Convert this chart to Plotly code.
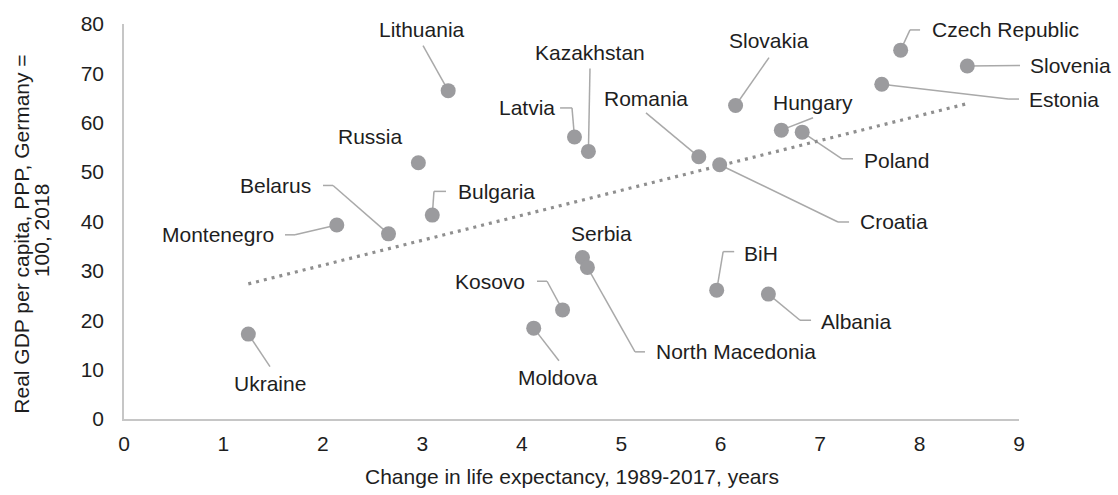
import numpy as np
import plotly.graph_objects as go

# ---- data ----
countries = ["Ukraine", "Montenegro", "Belarus", "Russia", "Bulgaria", "Lithuania",
             "Moldova", "Kosovo", "Latvia", "Serbia", "North Macedonia", "Kazakhstan",
             "Romania", "BiH", "Croatia", "Slovakia", "Albania", "Hungary", "Poland",
             "Estonia", "Czech Republic", "Slovenia"]
life_exp_change = [1.25, 2.14, 2.66, 2.96, 3.10, 3.26,
                   4.12, 4.41, 4.53, 4.61, 4.66, 4.67,
                   5.78, 5.96, 5.99, 6.15, 6.48, 6.61, 6.82,
                   7.62, 7.81, 8.48]
gdp_per_capita = [17.2, 39.3, 37.5, 51.9, 41.3, 66.5,
                  18.4, 22.1, 57.1, 32.7, 30.7, 54.2,
                  53.1, 26.1, 51.5, 63.5, 25.3, 58.5, 58.1,
                  67.8, 74.7, 71.5]

x_ticks = [0, 1, 2, 3, 4, 5, 6, 7, 8, 9]
y_ticks = [0, 10, 20, 30, 40, 50, 60, 70, 80]
x_title = "Change in life expectancy, 1989-2017, years"
y_title_lines = ["Real GDP per capita, PPP, Germany =", "100, 2018"]

X_RANGE = [0, 9]
Y_RANGE = [0, 80]

# ---- label placement (layout only): label anchor, x-anchor, leader waypoints ----
label_layout = {
    "Lithuania":       ((2.997, 78.8), "center", [(3.007, 75.6)]),
    "Kazakhstan":      ((4.686, 74.2), "center", [(4.686, 71.0)]),
    "Latvia":          ((4.354, 63.0), "right",  [(4.505, 63.0), (4.385, 63.0)]),
    "Romania":         ((5.249, 65.0), "center", [(5.249, 62.0)]),
    "Slovakia":        ((6.486, 76.6), "center", [(6.486, 73.2)]),
    "Russia":          ((2.474, 57.3), "center", []),
    "Bulgaria":        ((3.339, 46.1), "left",   [(3.117, 46.1), (3.238, 46.1)]),
    "Belarus":         ((1.901, 47.3), "right",  [(2.102, 47.3), (2.001, 47.3)]),
    "Montenegro":      ((1.529, 37.3), "right",  [(1.72, 37.3), (1.619, 37.3)]),
    "Ukraine":         ((1.468, 7.2),  "center", [(1.468, 10.6)]),
    "Serbia":          ((4.797, 37.5), "center", []),
    "Kosovo":          ((4.053, 27.9), "right",  [(4.254, 27.9), (4.153, 27.9)]),
    "Moldova":         ((4.364, 8.4),  "center", [(4.374, 11.8)]),
    "North Macedonia": ((5.330, 13.6), "left",   [(5.139, 13.6), (5.239, 13.6)]),
    "BiH":             ((6.215, 33.5), "left",   [(6.025, 33.9), (6.136, 33.9)]),
    "Albania":         ((6.989, 19.8), "left",   [(6.798, 20.0), (6.909, 20.0)]),
    "Czech Republic":  ((8.105, 78.8), "left",   [(7.904, 78.8), (8.005, 78.8)]),
    "Slovenia":        ((9.091, 71.6), "left",   [(9.01, 71.6)]),
    "Estonia":         ((9.081, 64.8), "left",   [(8.89, 64.8), (9.0, 64.8)]),
    "Hungary":         ((6.929, 64.0), "center", [(6.929, 61.0)]),
    "Poland":          ((7.422, 52.3), "left",   [(7.22, 52.7), (7.331, 52.7)]),
    "Croatia":         ((7.381, 39.9), "left",   [(7.18, 39.9), (7.291, 39.9)]),
}

FONT = "Liberation Sans, Arial, sans-serif"
FS = 21
TXT = "#1e1e1e"
DOT = "#9b9b9e"
LEAD = "#a9a9a9"


def to_paper(x, y):
    return ((x - X_RANGE[0]) / (X_RANGE[1] - X_RANGE[0]),
            (y - Y_RANGE[0]) / (Y_RANGE[1] - Y_RANGE[0]))


fig = go.Figure()

# leader lines (as paper-referenced shapes so they are not clipped)
for c, xv, yv in zip(countries, life_exp_change, gdp_per_capita):
    (lx, ly), anchor, pts = label_layout[c]
    if not pts:
        continue
    seq = [(xv, yv)] + list(pts)
    for (x0, y0), (x1, y1) in zip(seq[:-1], seq[1:]):
        px0, py0 = to_paper(x0, y0)
        px1, py1 = to_paper(x1, y1)
        fig.add_shape(type="line", xref="paper", yref="paper",
                      x0=px0, y0=py0, x1=px1, y1=py1,
                      line=dict(color=LEAD, width=1.5), layer="below")

# trend line (linear fit)
xa = np.array(life_exp_change)
ya = np.array(gdp_per_capita)
slope, intercept = np.polyfit(xa, ya, 1)
tx = np.array([xa.min(), xa.max()])
fig.add_trace(go.Scatter(x=tx, y=slope * tx + intercept, mode="lines",
                         line=dict(color="#8f8f8f", width=3.2, dash="3px,5px"),
                         hoverinfo="skip", showlegend=False))

# points
fig.add_trace(go.Scatter(x=life_exp_change, y=gdp_per_capita, mode="markers",
                         marker=dict(size=15, color=DOT),
                         text=countries, showlegend=False, cliponaxis=False))

# labels
for c in countries:
    (lx, ly), anchor, pts = label_layout[c]
    px, py = to_paper(lx, ly)
    fig.add_annotation(x=px, y=py, xref="paper", yref="paper", text=c, showarrow=False,
                       xanchor=anchor, yanchor="middle",
                       font=dict(family=FONT, size=FS, color=TXT))

# axis titles
fig.add_annotation(x=0.5, y=-0.1446, xref="paper", yref="paper", text=x_title,
                   showarrow=False, xanchor="center", yanchor="middle",
                   font=dict(family=FONT, size=FS, color=TXT))
fig.add_annotation(x=-0.1140, y=0.469, xref="paper", yref="paper", text=y_title_lines[0],
                   showarrow=False, textangle=-90, xanchor="center", yanchor="middle",
                   font=dict(family=FONT, size=FS, color=TXT))
fig.add_annotation(x=-0.0915, y=0.476, xref="paper", yref="paper", text=y_title_lines[1],
                   showarrow=False, textangle=-90, xanchor="center", yanchor="middle",
                   font=dict(family=FONT, size=FS, color=TXT))

fig.update_layout(
    width=1118, height=495,
    margin=dict(l=124, r=99, t=18, b=76),
    paper_bgcolor="white", plot_bgcolor="white",
    font=dict(family=FONT, size=FS, color=TXT),
    showlegend=False,
    xaxis=dict(range=X_RANGE, tickvals=x_ticks, ticktext=[str(v) for v in x_ticks],
               showgrid=False, zeroline=False, showline=True, linecolor="#c6c6c6",
               linewidth=1.5, ticks="outside", ticklen=5, tickcolor="rgba(0,0,0,0)",
               tickfont=dict(family=FONT, size=FS, color=TXT)),
    yaxis=dict(range=Y_RANGE, tickvals=y_ticks, ticktext=[str(v) for v in y_ticks],
               showgrid=False, zeroline=False, showline=True, linecolor="#c6c6c6",
               linewidth=1.5, ticks="outside", ticklen=14, tickcolor="rgba(0,0,0,0)",
               tickfont=dict(family=FONT, size=FS, color=TXT)),
)

fig.write_html("out.html",
               config={"displayModeBar": False},
               post_script="document.body.style.margin='0';document.body.style.overflow='hidden';")
